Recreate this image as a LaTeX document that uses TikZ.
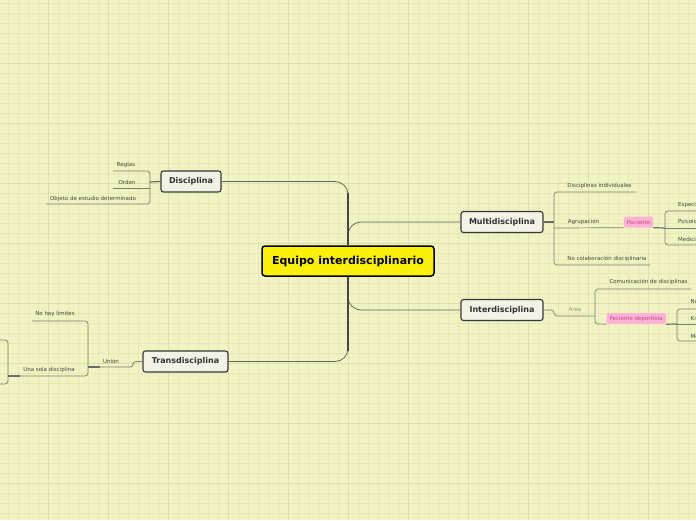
\documentclass[tikz,border=0pt]{standalone}
\usepackage{fontspec}
\setmainfont{DejaVu Sans}
\definecolor{bg}{RGB}{242,243,195}
\definecolor{gridminor}{RGB}{230,232,182}
\definecolor{gridmajor}{RGB}{220,223,170}
\definecolor{branchline}{RGB}{128,128,112}
\definecolor{trunkcol}{RGB}{70,70,70}
\definecolor{nodefill}{RGB}{243,242,230}
\definecolor{nodeborder}{RGB}{55,55,55}
\definecolor{nodetext}{RGB}{50,50,50}
\definecolor{txt}{RGB}{68,68,60}
\definecolor{areatxt}{RGB}{150,150,125}
\definecolor{rootfill}{RGB}{250,240,10}
\definecolor{pinkfill}{RGB}{255,178,214}
\definecolor{pinktxt}{RGB}{185,75,130}
\begin{document}
\begin{tikzpicture}[x=1pt,y=-1pt,
  every node/.style={font=\fontsize{5.5}{6}\selectfont, text=txt, inner sep=0pt},
  root/.style={draw=black, line width=1.5pt, fill=rootfill, rounded corners=3pt,
    font=\fontsize{11}{12}\selectfont\bfseries, text=black, minimum width=172, minimum height=30},
  topic/.style={draw=nodeborder, line width=1.1pt, fill=nodefill, rounded corners=2.5pt,
    font=\fontsize{8}{9}\selectfont\bfseries, text=nodetext, minimum height=21},
  pinklabel/.style={fill=pinkfill, rounded corners=1.5pt, text=pinktxt, inner xsep=3pt, minimum height=11},
  thinline/.style={draw=branchline, line width=0.7pt, rounded corners=3pt},
  joinline/.style={draw=trunkcol!80, line width=1.2pt},
  trunkline/.style={draw=trunkcol, line width=2.4pt},
  rootline/.style={draw=branchline!80!black, line width=0.8pt, rounded corners=13pt}
]
\useasboundingbox (0,0) rectangle (696,520);
\clip (0,0) rectangle (696,520);
% background and grid
\fill[bg] (0,0) rectangle (696,520);
\foreach \i in {0,...,68} \draw[gridminor, line width=0.7pt] (8.3+10*\i,0) -- (8.3+10*\i,520);
\foreach \i in {0,...,51} \draw[gridminor, line width=0.7pt] (0,3.3+10*\i) -- (696,3.3+10*\i);
\foreach \i in {0,...,11} \draw[gridmajor, line width=0.8pt] (48.3+60*\i,0) -- (48.3+60*\i,520);
\foreach \i in {0,...,7} \draw[gridmajor, line width=0.8pt] (0,63.3+60*\i) -- (696,63.3+60*\i);

% main nodes
\node[root] (root) at (348,261) {Equipo interdisciplinario};
\node[topic, minimum width=60] (disc) at (191,181.5) {Disciplina};
\node[topic, minimum width=82] (multi) at (502,222) {Multidisciplina};
\node[topic, minimum width=82] (inter) at (502,310) {Interdisciplina};
\node[topic, minimum width=85] (trans) at (185.5,361.5) {Transdisciplina};

% root connectors
\draw[rootline] (root.north) |- (disc.east);
\draw[rootline] (root.north) |- (multi.west);
\draw[rootline] (root.south) |- (inter.west);
\draw[rootline] (root.south) |- (trans.east);
\draw[trunkline] (root.north) -- ++(0,-52);
\draw[trunkline] (root.south) -- ++(0,74);

% Disciplina
\node (reglas) at (126,165) {Reglas};
\node (orden) at (127,182) {Orden};
\node (objeto) at (93,199) {Objeto de estudio determinado};
\coordinate (db) at (150,182);
\draw[thinline] (113,171) -- (150,171) -- (150,204) -- (46,204);
\draw[thinline] (150,188) -- (113,188);
\draw[joinline] (disc.west) -- (db);

% Multidisciplina
\node (indiv) at (599.5,186) {Disciplinas individuales};
\node (agrup) at (583.5,222) {Agrupación};
\node (nocol) at (607,259) {No colaboración disciplinaria};
\node[pinklabel] (pac) at (638.5,222) {Paciente};
\coordinate (mb) at (554,222);
\draw[joinline] (multi.east) -- (mb);
\draw[thinline] (636,192) -- (554,192) -- (554,265) -- (650,265);
\draw[thinline] (554,228) -- (pac.south west);
\draw[joinline] (pac.south east) -- (665,228);
\draw[thinline] (700,211) -- (665,211) -- (665,245) -- (700,245);
\draw[thinline] (665,228) -- (700,228);
\node[anchor=west] (esp) at (678,204.5) {Especialistas};
\node[anchor=west] (psi) at (678,222) {Psicología};
\node[anchor=west] (med) at (678,239) {Medicina};

% Interdisciplina
\node[text=areatxt] (area) at (575,310) {Area};
\draw[thinline] (inter.east) -- (554,310) -- (554,316) -- (595,316);
\node (comun) at (648.5,282) {Comunicación de disciplinas};
\node[pinklabel] (pacd) at (636.2,318.5) {Paciente deportista};
\draw[thinline] (691,289) -- (595,289) -- (595,324) -- (pacd.south west);
\draw[joinline] (pacd.south east) -- (677,324);
\draw[thinline] (700,309) -- (677,309) -- (677,341) -- (700,341);
\draw[thinline] (677,324) -- (700,324);
\node[anchor=west] (nut) at (690.5,301) {Nutricionista};
\node[anchor=west] (kin) at (690.5,319) {Kinesiólogo};
\node[anchor=west] (medd) at (690.5,336) {Médico};

% Transdisciplina
\node (union) at (111,361.5) {Unión};
\draw[thinline] (trans.west) -- (133,361.5) -- (133,367) -- (88,367);
\draw[joinline] (100,367) -- (88,367);
\node (nohay) at (55,314) {No hay límites};
\node (una) at (49,370) {Una sola disciplina};
\draw[thinline] (32,321) -- (88,321) -- (88,376) -- (10,376);
\draw[thinline] (-10,340) -- (8,340) -- (8,384) -- (-10,384);
\draw[joinline] (20,376) -- (8,376);
\end{tikzpicture}
\end{document}
